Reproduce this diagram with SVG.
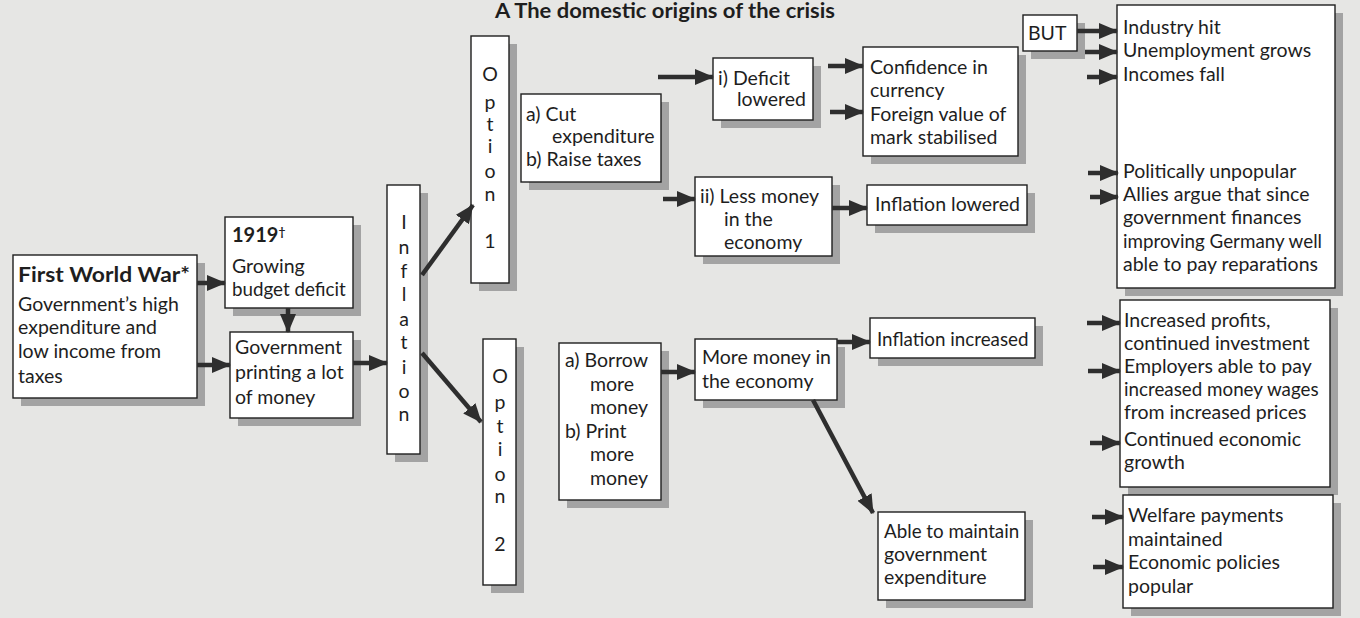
<svg xmlns="http://www.w3.org/2000/svg" width="1360" height="618" viewBox="0 0 1360 618">
<defs>
<marker id="ah" markerUnits="userSpaceOnUse" markerWidth="19" markerHeight="16" refX="18" refY="8" orient="auto">
<path d="M0,0 L19,8 L0,16 z" fill="#2e2e2e"/>
</marker>
<style>
.bg{fill:#e6e6e4}
.sh{fill:#a3a3a3}
.bx{fill:#ffffff;stroke:#1e1e1e;stroke-width:1.4}
text{font-family:Lato,"Noto Sans","DejaVu Sans",sans-serif;font-size:19.5px;fill:#1e1e1e}
.b{font-weight:bold}
.v{text-anchor:middle}
.s{font-size:18.8px}
.c line{stroke:#2e2e2e;stroke-width:4.5;marker-end:url(#ah)}
</style>
</defs>
<rect class="bg" x="0" y="0" width="1360" height="618"/>
<text class="b" x="495" y="18" style="font-size:20px" textLength="340" lengthAdjust="spacingAndGlyphs">A The domestic origins of the crisis</text>

<g id="fww"><rect class="sh" x="21" y="263" width="184" height="143"/><rect class="bx" x="13" y="255" width="184" height="143"/>
<text class="b" x="18" y="282" style="font-size:20px" textLength="172" lengthAdjust="spacingAndGlyphs">First World War*</text>
<text x="18" y="311">Government’s high</text><text x="18" y="334">expenditure and</text><text x="18" y="358">low income from</text><text x="18" y="383">taxes</text></g>

<g id="y1919"><rect class="sh" x="233" y="225" width="128" height="91"/><rect class="bx" x="225" y="217" width="128" height="91"/>
<text class="b" x="232" y="242" style="font-size:20px">1919<tspan style="font-size:12px" dy="-6">†</tspan></text>
<text x="232" y="273">Growing</text><text x="232" y="296" class="s">budget deficit</text></g>

<g id="gov"><rect class="sh" x="238" y="340" width="123" height="86"/><rect class="bx" x="230" y="332" width="123" height="86"/>
<text x="235" y="354">Government</text><text x="235" y="379">printing a lot</text><text x="235" y="404">of money</text></g>

<g id="inflation"><rect class="sh" x="395" y="193" width="33" height="269"/><rect class="bx" x="387" y="185" width="33" height="269"/>
<text class="v" x="404" y="229">I</text><text class="v" x="404" y="254">n</text><text class="v" x="404" y="278">f</text><text class="v" x="404" y="301">l</text><text class="v" x="404" y="326">a</text><text class="v" x="404" y="349">t</text><text class="v" x="404" y="374">i</text><text class="v" x="404" y="398">o</text><text class="v" x="404" y="421">n</text></g>

<g id="opt1"><rect class="sh" x="479" y="44" width="38" height="247"/><rect class="bx" x="471" y="36" width="38" height="247"/>
<text class="v" x="490" y="81">O</text><text class="v" x="490" y="109">p</text><text class="v" x="490" y="131">t</text><text class="v" x="490" y="153">i</text><text class="v" x="490" y="178">o</text><text class="v" x="490" y="201">n</text><text class="v" x="490" y="248">1</text></g>

<g id="opt2"><rect class="sh" x="491" y="347" width="33" height="246"/><rect class="bx" x="483" y="339" width="33" height="246"/>
<text class="v" x="500" y="383">O</text><text class="v" x="500" y="409">p</text><text class="v" x="500" y="433">t</text><text class="v" x="500" y="456">i</text><text class="v" x="500" y="481">o</text><text class="v" x="500" y="503">n</text><text class="v" x="500" y="551">2</text></g>

<g id="cut"><rect class="sh" x="529" y="102" width="140" height="88"/><rect class="bx" x="521" y="94" width="140" height="88"/>
<text x="526" y="121">a) Cut</text><text x="552" y="143">expenditure</text><text x="526" y="166">b) Raise taxes</text></g>

<g id="deficit"><rect class="sh" x="721" y="66" width="100" height="62"/><rect class="bx" x="713" y="58" width="100" height="62"/>
<text x="718" y="85">i) Deficit</text><text x="737" y="106">lowered</text></g>

<g id="less"><rect class="sh" x="703" y="185" width="137" height="79"/><rect class="bx" x="695" y="177" width="137" height="79"/>
<text x="700" y="203">ii) Less money</text><text x="724" y="226">in the</text><text x="724" y="249">economy</text></g>

<g id="confidence"><rect class="sh" x="871" y="55" width="155" height="109"/><rect class="bx" x="863" y="47" width="155" height="109"/>
<text x="870" y="74">Confidence in</text><text x="870" y="97">currency</text><text x="870" y="121">Foreign value of</text><text x="870" y="144">mark stabilised</text></g>

<g id="inflLow"><rect class="sh" x="875" y="193" width="160" height="40"/><rect class="bx" x="867" y="185" width="160" height="40"/>
<text x="875" y="211">Inflation lowered</text></g>

<g id="but"><rect class="sh" x="1031" y="23" width="54" height="36"/><rect class="bx" x="1023" y="15" width="54" height="36"/>
<text x="1028" y="40">BUT</text></g>

<g id="consequences1"><rect class="sh" x="1125" y="13" width="218" height="283"/><rect class="bx" x="1117" y="5" width="218" height="283"/>
<text x="1123" y="34">Industry hit</text><text x="1123" y="57">Unemployment grows</text><text x="1123" y="81">Incomes fall</text>
<text x="1123" y="178">Politically unpopular</text><text x="1123" y="201">Allies argue that since</text><text x="1123" y="224">government finances</text><text x="1123" y="248" class="s">improving Germany well</text><text x="1123" y="271">able to pay reparations</text></g>

<g id="borrow"><rect class="sh" x="567" y="351" width="102" height="157"/><rect class="bx" x="559" y="343" width="102" height="157"/>
<text x="565" y="367">a) Borrow</text><text x="590" y="391">more</text><text x="590" y="414">money</text><text x="565" y="438">b) Print</text><text x="590" y="461">more</text><text x="590" y="485">money</text></g>

<g id="more"><rect class="sh" x="703" y="347" width="142" height="61"/><rect class="bx" x="695" y="339" width="142" height="61"/>
<text x="702" y="364">More money in</text><text x="702" y="388">the economy</text></g>

<g id="inflInc"><rect class="sh" x="878" y="326" width="165" height="40"/><rect class="bx" x="870" y="318" width="165" height="40"/>
<text x="877" y="346" class="s">Inflation increased</text></g>

<g id="able"><rect class="sh" x="886" y="520" width="147" height="88"/><rect class="bx" x="878" y="512" width="147" height="88"/>
<text x="884" y="538" class="s">Able to maintain</text><text x="884" y="561">government</text><text x="884" y="584">expenditure</text></g>

<g id="consequences2"><rect class="sh" x="1128" y="308" width="210" height="187"/><rect class="bx" x="1120" y="300" width="210" height="187"/>
<text x="1124" y="327">Increased profits,</text><text x="1124" y="350">continued investment</text><text x="1124" y="373">Employers able to pay</text><text x="1124" y="396" class="s">increased money wages</text><text x="1124" y="419">from increased prices</text><text x="1124" y="446">Continued economic</text><text x="1124" y="469">growth</text></g>

<g id="consequences3"><rect class="sh" x="1131" y="503" width="210" height="113"/><rect class="bx" x="1123" y="495" width="210" height="113"/>
<text x="1128" y="522">Welfare payments</text><text x="1128" y="546">maintained</text><text x="1128" y="569">Economic policies</text><text x="1128" y="593">popular</text></g>

<g id="connectors" class="c">
<line x1="197" y1="283" x2="225" y2="283"/>
<line x1="197" y1="365" x2="230" y2="365"/>
<line x1="288" y1="308" x2="288" y2="332"/>
<line x1="353" y1="363" x2="387" y2="363"/>
<line x1="422" y1="275" x2="473" y2="205"/>
<line x1="422" y1="353" x2="481" y2="422"/>
<line x1="658" y1="77" x2="713" y2="77"/>
<line x1="663" y1="199" x2="695" y2="199"/>
<line x1="828" y1="66" x2="863" y2="66"/>
<line x1="830" y1="112" x2="863" y2="112"/>
<line x1="832" y1="208" x2="867" y2="208"/>
<line x1="1077" y1="31" x2="1117" y2="31"/>
<line x1="1085" y1="52" x2="1117" y2="52"/>
<line x1="1087" y1="77" x2="1117" y2="77"/>
<line x1="1088" y1="173" x2="1118" y2="173"/>
<line x1="1090" y1="197" x2="1118" y2="197"/>
<line x1="661" y1="372" x2="695" y2="372"/>
<line x1="837" y1="342" x2="870" y2="342"/>
<line x1="813" y1="400" x2="873" y2="513"/>
<line x1="1087" y1="323" x2="1120" y2="323"/>
<line x1="1088" y1="371" x2="1120" y2="371"/>
<line x1="1090" y1="443" x2="1120" y2="443"/>
<line x1="1092" y1="517" x2="1123" y2="517"/>
<line x1="1093" y1="567" x2="1123" y2="567"/>
</g>
</svg>
